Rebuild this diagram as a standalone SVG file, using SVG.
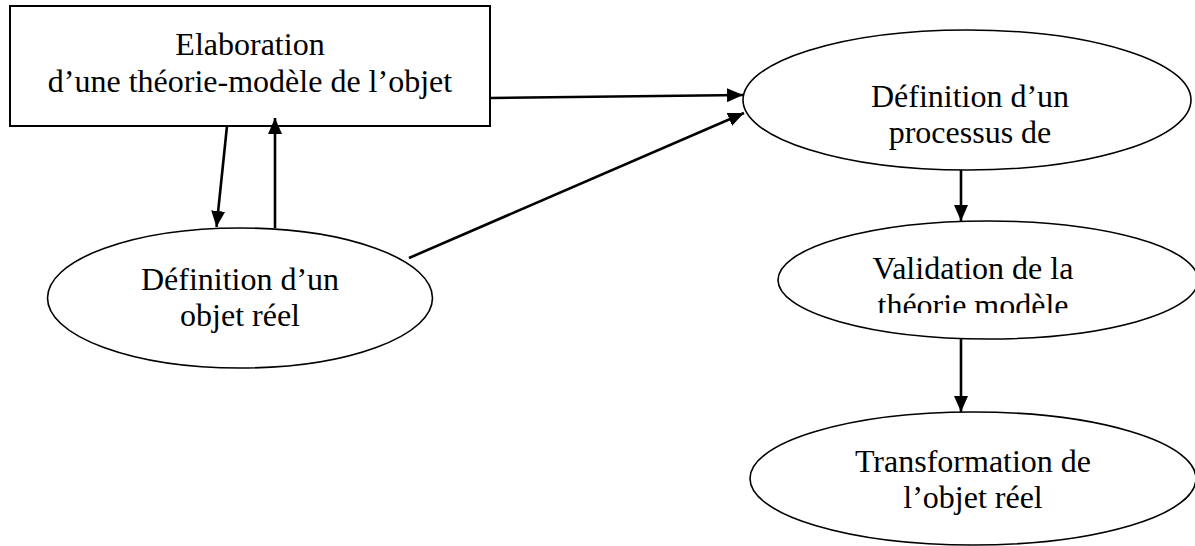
<svg xmlns="http://www.w3.org/2000/svg" width="1195" height="546" viewBox="0 0 1195 546">
  <style>
    .box { fill: #ffffff; stroke: #000000; stroke-width: 2; }
    .oval { fill: #ffffff; stroke: #000000; stroke-width: 1.6; }
    .label { font-family: "Liberation Serif", "Times New Roman", serif; font-size: 32px; fill: #000000; text-anchor: middle; }
    .edge { fill: none; stroke: #000000; stroke-width: 2.6; }
  </style>
  <defs>
    <marker id="arrow" markerUnits="userSpaceOnUse" markerWidth="16" markerHeight="14" refX="16" refY="7" orient="auto">
      <path d="M0,0 L16,7 L0,14 Z" fill="#000000"/>
    </marker>
    <!-- the second line of the validation oval sits in a text frame that cuts off its lower edge -->
    <clipPath id="clip-validation">
      <rect x="780" y="240" width="415" height="73"/>
    </clipPath>
  </defs>
  <rect x="0" y="0" width="1195" height="546" fill="#ffffff"/>

  <g id="node-elaboration">
    <rect class="box" x="10" y="6" width="480" height="120"/>
    <text class="label" x="250" y="55">Elaboration</text>
    <text class="label" x="250" y="92">d’une théorie-modèle de l’objet</text>
  </g>

  <g id="node-objet-reel">
    <ellipse class="oval" cx="240" cy="298" rx="192.5" ry="70"/>
    <text class="label" x="240" y="290">Définition d’un</text>
    <text class="label" x="240" y="326">objet réel</text>
  </g>

  <g id="node-processus">
    <ellipse class="oval" cx="967" cy="100" rx="224" ry="70"/>
    <text class="label" x="970" y="107">Définition d’un</text>
    <text class="label" x="970" y="143">processus de</text>
  </g>

  <g id="node-validation">
    <ellipse class="oval" cx="988" cy="280" rx="210" ry="59"/>
    <text class="label" x="973" y="279">Validation de la</text>
    <text class="label" x="973" y="316" clip-path="url(#clip-validation)">théorie modèle</text>
  </g>

  <g id="node-transformation">
    <ellipse class="oval" cx="973" cy="478.5" rx="223" ry="66.5"/>
    <text class="label" x="973" y="472">Transformation de</text>
    <text class="label" x="973" y="508">l’objet réel</text>
  </g>

  <g id="connectors">
    <line class="edge" x1="227" y1="126" x2="216.5" y2="227" marker-end="url(#arrow)"/>
    <line class="edge" x1="275" y1="228" x2="275" y2="118" marker-end="url(#arrow)"/>
    <line class="edge" x1="490" y1="98" x2="743" y2="95" marker-end="url(#arrow)"/>
    <line class="edge" x1="409" y1="258" x2="744" y2="113" marker-end="url(#arrow)"/>
    <line class="edge" x1="961" y1="170" x2="961" y2="221" marker-end="url(#arrow)"/>
    <line class="edge" x1="961" y1="339" x2="961" y2="412" marker-end="url(#arrow)"/>
  </g>
</svg>
